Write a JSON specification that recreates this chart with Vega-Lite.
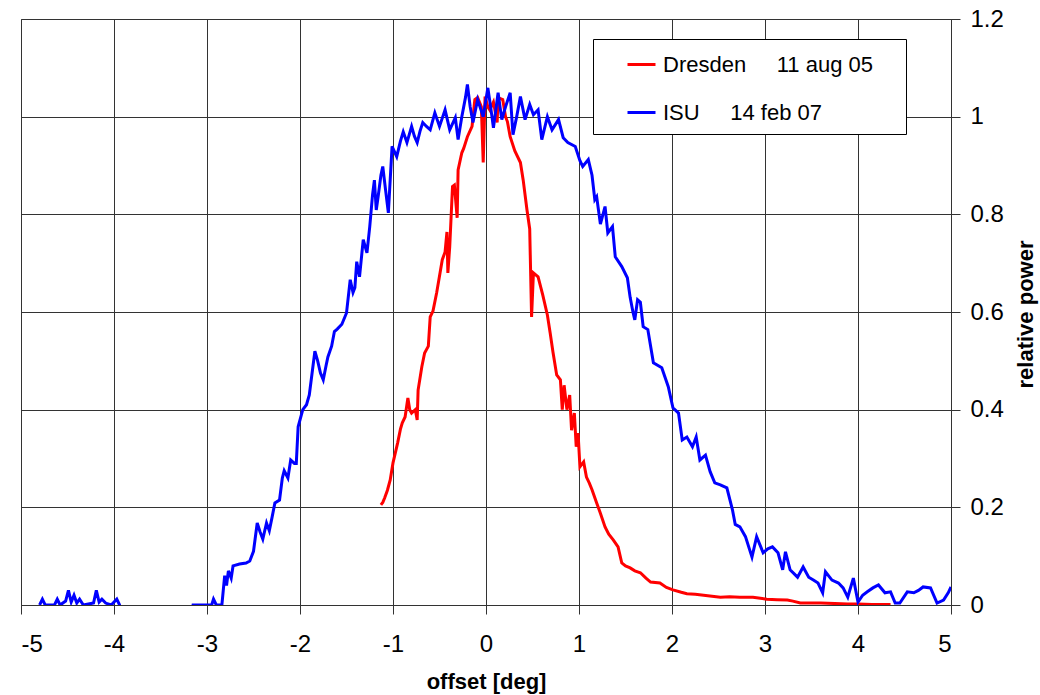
{
  "$schema": "https://vega.github.io/schema/vega-lite/v6.json",
  "width": 930,
  "height": 586,
  "autosize": {"type": "none"},
  "padding": {"left": 21, "top": 19, "right": 89, "bottom": 90},
  "background": "white",
  "config": {"font": "Liberation Sans", "view": {"stroke": "#555555"}},
  "datasets": {
    "ISU": [
      {"x":-4.80,"y":0},{"x":-4.77,"y":0.012},{"x":-4.74,"y":0},{"x":-4.64,"y":0},{"x":-4.61,"y":0.012},{"x":-4.58,"y":0},{"x":-4.52,"y":0.008},{"x":-4.49,"y":0.03},{"x":-4.46,"y":0.006},{"x":-4.43,"y":0.02},{"x":-4.40,"y":0.004},{"x":-4.37,"y":0.012},{"x":-4.33,"y":0},{"x":-4.22,"y":0.004},{"x":-4.19,"y":0.03},{"x":-4.16,"y":0.006},{"x":-4.13,"y":0.012},{"x":-4.09,"y":0.004},{"x":-4.03,"y":0},{"x":-3.97,"y":0.012},{"x":-3.94,"y":0},{"x":-3.90,"y":-0.05},{"x":-3.20,"y":-0.05},{"x":-3.15,"y":0},{"x":-2.95,"y":0},{"x":-2.93,"y":0.012},{"x":-2.90,"y":0},{"x":-2.84,"y":0},{"x":-2.81,"y":0.06},{"x":-2.79,"y":0.04},{"x":-2.77,"y":0.07},{"x":-2.74,"y":0.055},{"x":-2.72,"y":0.08},{"x":-2.65,"y":0.084},{"x":-2.58,"y":0.086},{"x":-2.54,"y":0.09},{"x":-2.50,"y":0.11},{"x":-2.46,"y":0.168},{"x":-2.43,"y":0.15},{"x":-2.40,"y":0.135},{"x":-2.36,"y":0.168},{"x":-2.33,"y":0.152},{"x":-2.30,"y":0.18},{"x":-2.27,"y":0.209},{"x":-2.22,"y":0.215},{"x":-2.19,"y":0.26},{"x":-2.17,"y":0.275},{"x":-2.13,"y":0.26},{"x":-2.10,"y":0.297},{"x":-2.06,"y":0.29},{"x":-2.04,"y":0.29},{"x":-2.02,"y":0.365},{"x":-1.97,"y":0.40},{"x":-1.93,"y":0.41},{"x":-1.90,"y":0.43},{"x":-1.86,"y":0.49},{"x":-1.84,"y":0.52},{"x":-1.81,"y":0.50},{"x":-1.78,"y":0.475},{"x":-1.75,"y":0.461},{"x":-1.72,"y":0.49},{"x":-1.70,"y":0.508},{"x":-1.66,"y":0.53},{"x":-1.63,"y":0.56},{"x":-1.60,"y":0.565},{"x":-1.55,"y":0.575},{"x":-1.50,"y":0.598},{"x":-1.46,"y":0.666},{"x":-1.43,"y":0.64},{"x":-1.41,"y":0.65},{"x":-1.39,"y":0.703},{"x":-1.36,"y":0.672},{"x":-1.32,"y":0.748},{"x":-1.28,"y":0.721},{"x":-1.25,"y":0.775},{"x":-1.22,"y":0.84},{"x":-1.20,"y":0.87},{"x":-1.18,"y":0.809},{"x":-1.16,"y":0.836},{"x":-1.13,"y":0.88},{"x":-1.11,"y":0.898},{"x":-1.08,"y":0.85},{"x":-1.05,"y":0.803},{"x":-1.01,"y":0.939},{"x":-0.96,"y":0.918},{"x":-0.92,"y":0.95},{"x":-0.89,"y":0.969},{"x":-0.85,"y":0.947},{"x":-0.80,"y":0.98},{"x":-0.77,"y":0.96},{"x":-0.74,"y":0.947},{"x":-0.71,"y":0.97},{"x":-0.68,"y":0.988},{"x":-0.64,"y":0.98},{"x":-0.60,"y":0.973},{"x":-0.55,"y":1.008},{"x":-0.50,"y":0.98},{"x":-0.44,"y":1.014},{"x":-0.39,"y":0.973},{"x":-0.33,"y":0.998},{"x":-0.30,"y":0.953},{"x":-0.26,"y":1.0},{"x":-0.22,"y":1.04},{"x":-0.20,"y":1.066},{"x":-0.17,"y":1.02},{"x":-0.14,"y":0.988},{"x":-0.09,"y":1.035},{"x":-0.03,"y":1.0},{"x":0.02,"y":1.059},{"x":0.05,"y":1.02},{"x":0.08,"y":0.977},{"x":0.13,"y":1.049},{"x":0.17,"y":0.994},{"x":0.21,"y":1.02},{"x":0.26,"y":1.049},{"x":0.29,"y":0.963},{"x":0.33,"y":1.0},{"x":0.37,"y":1.041},{"x":0.42,"y":0.994},{"x":0.47,"y":1.025},{"x":0.51,"y":1.004},{"x":0.56,"y":1.014},{"x":0.60,"y":0.953},{"x":0.66,"y":1.0},{"x":0.71,"y":0.973},{"x":0.78,"y":0.994},{"x":0.83,"y":0.957},{"x":0.88,"y":0.947},{"x":0.96,"y":0.939},{"x":1.01,"y":0.91},{"x":1.04,"y":0.898},{"x":1.10,"y":0.912},{"x":1.14,"y":0.88},{"x":1.17,"y":0.83},{"x":1.19,"y":0.836},{"x":1.23,"y":0.78},{"x":1.28,"y":0.816},{"x":1.31,"y":0.762},{"x":1.36,"y":0.775},{"x":1.39,"y":0.713},{"x":1.46,"y":0.693},{"x":1.52,"y":0.67},{"x":1.55,"y":0.63},{"x":1.58,"y":0.60},{"x":1.60,"y":0.584},{"x":1.63,"y":0.625},{"x":1.66,"y":0.62},{"x":1.69,"y":0.57},{"x":1.74,"y":0.564},{"x":1.80,"y":0.496},{"x":1.89,"y":0.486},{"x":1.96,"y":0.447},{"x":2.01,"y":0.404},{"x":2.07,"y":0.393},{"x":2.11,"y":0.338},{"x":2.16,"y":0.344},{"x":2.22,"y":0.324},{"x":2.26,"y":0.344},{"x":2.30,"y":0.297},{"x":2.36,"y":0.307},{"x":2.41,"y":0.273},{"x":2.46,"y":0.25},{"x":2.52,"y":0.246},{"x":2.59,"y":0.24},{"x":2.65,"y":0.195},{"x":2.68,"y":0.165},{"x":2.73,"y":0.16},{"x":2.79,"y":0.14},{"x":2.86,"y":0.098},{"x":2.91,"y":0.14},{"x":2.98,"y":0.107},{"x":3.03,"y":0.115},{"x":3.08,"y":0.119},{"x":3.14,"y":0.107},{"x":3.19,"y":0.072},{"x":3.22,"y":0.109},{"x":3.27,"y":0.072},{"x":3.35,"y":0.057},{"x":3.41,"y":0.078},{"x":3.47,"y":0.057},{"x":3.52,"y":0.051},{"x":3.57,"y":0.045},{"x":3.62,"y":0.025},{"x":3.65,"y":0.068},{"x":3.72,"y":0.051},{"x":3.79,"y":0.045},{"x":3.84,"y":0.035},{"x":3.89,"y":0.016},{"x":3.95,"y":0.055},{"x":4.00,"y":0.006},{"x":4.05,"y":0.02},{"x":4.10,"y":0.027},{"x":4.16,"y":0.035},{"x":4.22,"y":0.041},{"x":4.29,"y":0.025},{"x":4.35,"y":0.027},{"x":4.40,"y":0.004},{"x":4.45,"y":0.004},{"x":4.53,"y":0.027},{"x":4.60,"y":0.025},{"x":4.65,"y":0.03},{"x":4.70,"y":0.037},{"x":4.78,"y":0.035},{"x":4.85,"y":0.004},{"x":4.92,"y":0.01},{"x":4.97,"y":0.025},{"x":5.00,"y":0.037}
    ],
    "Dresden": [
      {"x":-1.13,"y":0.205},{"x":-1.11,"y":0.21},{"x":-1.09,"y":0.219},{"x":-1.06,"y":0.235},{"x":-1.03,"y":0.256},{"x":-1.00,"y":0.291},{"x":-0.95,"y":0.332},{"x":-0.92,"y":0.36},{"x":-0.90,"y":0.373},{"x":-0.87,"y":0.385},{"x":-0.84,"y":0.424},{"x":-0.82,"y":0.40},{"x":-0.80,"y":0.393},{"x":-0.76,"y":0.40},{"x":-0.74,"y":0.379},{"x":-0.73,"y":0.44},{"x":-0.69,"y":0.488},{"x":-0.66,"y":0.516},{"x":-0.62,"y":0.53},{"x":-0.60,"y":0.59},{"x":-0.57,"y":0.602},{"x":-0.53,"y":0.64},{"x":-0.47,"y":0.707},{"x":-0.44,"y":0.723},{"x":-0.42,"y":0.764},{"x":-0.41,"y":0.68},{"x":-0.39,"y":0.734},{"x":-0.36,"y":0.857},{"x":-0.34,"y":0.86},{"x":-0.31,"y":0.793},{"x":-0.30,"y":0.891},{"x":-0.26,"y":0.926},{"x":-0.24,"y":0.935},{"x":-0.20,"y":0.959},{"x":-0.15,"y":0.98},{"x":-0.12,"y":1.035},{"x":-0.09,"y":1.039},{"x":-0.05,"y":1.02},{"x":-0.03,"y":0.906},{"x":-0.01,"y":1.041},{"x":0.02,"y":1.02},{"x":0.04,"y":1.014},{"x":0.08,"y":1.03},{"x":0.12,"y":0.988},{"x":0.13,"y":1.039},{"x":0.18,"y":1.035},{"x":0.21,"y":1.0},{"x":0.23,"y":0.99},{"x":0.26,"y":0.959},{"x":0.31,"y":0.93},{"x":0.37,"y":0.906},{"x":0.40,"y":0.87},{"x":0.44,"y":0.81},{"x":0.47,"y":0.77},{"x":0.49,"y":0.59},{"x":0.51,"y":0.68},{"x":0.56,"y":0.672},{"x":0.61,"y":0.635},{"x":0.66,"y":0.594},{"x":0.69,"y":0.557},{"x":0.72,"y":0.518},{"x":0.76,"y":0.471},{"x":0.80,"y":0.461},{"x":0.82,"y":0.40},{"x":0.84,"y":0.45},{"x":0.87,"y":0.40},{"x":0.90,"y":0.43},{"x":0.92,"y":0.358},{"x":0.95,"y":0.393},{"x":0.97,"y":0.324},{"x":0.99,"y":0.352},{"x":1.01,"y":0.283},{"x":1.05,"y":0.293},{"x":1.08,"y":0.262},{"x":1.11,"y":0.25},{"x":1.14,"y":0.236},{"x":1.19,"y":0.209},{"x":1.23,"y":0.188},{"x":1.28,"y":0.16},{"x":1.32,"y":0.145},{"x":1.37,"y":0.133},{"x":1.42,"y":0.119},{"x":1.46,"y":0.086},{"x":1.50,"y":0.08},{"x":1.55,"y":0.076},{"x":1.60,"y":0.07},{"x":1.66,"y":0.066},{"x":1.72,"y":0.055},{"x":1.77,"y":0.047},{"x":1.87,"y":0.045},{"x":1.94,"y":0.036},{"x":2.01,"y":0.031},{"x":2.10,"y":0.026},{"x":2.16,"y":0.023},{"x":2.25,"y":0.022},{"x":2.34,"y":0.02},{"x":2.43,"y":0.018},{"x":2.52,"y":0.016},{"x":2.62,"y":0.017},{"x":2.73,"y":0.016},{"x":2.87,"y":0.016},{"x":2.95,"y":0.014},{"x":3.02,"y":0.012},{"x":3.13,"y":0.011},{"x":3.24,"y":0.01},{"x":3.30,"y":0.008},{"x":3.38,"y":0.004},{"x":3.50,"y":0.004},{"x":3.60,"y":0.004},{"x":3.75,"y":0.003},{"x":3.89,"y":0.002},{"x":4.00,"y":0.002},{"x":4.15,"y":0.001},{"x":4.35,"y":0.001}
    ]
  },
  "encoding": {
    "x": {
      "field": "x", "type": "quantitative",
      "scale": {"domain": [-5, 5], "nice": false, "zero": false},
      "axis": {
        "values": [-5,-4,-3,-2,-1,0,1,2,3,4,5],
        "labelExpr": "datum.value < 0 ? '-' + abs(datum.value) : '' + datum.value",
        "title": "offset [deg]", "titleFontSize": 22, "titleFontWeight": "bold", "titleColor": "black",
        "titleBaseline": "middle", "titleY": 76,
        "labelFontSize": 24, "labelColor": "black", "labelPadding": 18,
        "tickSize": 9, "tickColor": "#333333", "domainColor": "#333333",
        "grid": true, "gridColor": "#333333", "gridOpacity": 1
      }
    },
    "y": {
      "field": "y", "type": "quantitative",
      "scale": {"domain": [0, 1.2], "nice": false},
      "axis": {
        "orient": "right",
        "values": [0, 0.2, 0.4, 0.6, 0.8, 1, 1.2],
        "format": ".1~f",
        "title": "relative power", "titleFontSize": 22, "titleFontWeight": "bold", "titleColor": "black",
        "titleAngle": 270, "titleAlign": "center", "titleBaseline": "middle", "titleX": 74, "titleY": 295,
        "labelFontSize": 24, "labelColor": "black", "labelPadding": 10, "labelBaseline": "middle",
        "tickSize": 9, "tickColor": "#333333", "domainColor": "#333333",
        "grid": true, "gridColor": "#333333", "gridOpacity": 1
      }
    },
    "color": {
      "type": "nominal",
      "scale": {
        "domain": ["Dresden\u00a0\u00a0\u00a0\u00a0\u00a011 aug 05\u00a0\u2800", "ISU\u00a0\u00a0\u00a0\u00a0\u00a014 feb 07"],
        "range": ["#ff0000", "#0000ff"]
      },
      "legend": {
        "title": null, "orient": "none", "legendX": 572, "legendY": 20,
        "strokeColor": "black", "fillColor": "white", "padding": 10,
        "symbolType": "stroke", "symbolSize": 784, "symbolStrokeWidth": 3, "symbolOffset": 23,
        "labelFontSize": 22, "labelColor": "black", "labelOffset": 6, "rowPadding": 21, "labelLimit": 400
      }
    }
  },
  "layer": [
    {
      "data": {"name": "Dresden"},
      "mark": {"type": "line", "strokeWidth": 3, "clip": true},
      "encoding": {"color": {"datum": "Dresden\u00a0\u00a0\u00a0\u00a0\u00a011 aug 05\u00a0\u2800"}}
    },
    {
      "data": {"name": "ISU"},
      "mark": {"type": "line", "strokeWidth": 3, "clip": true},
      "encoding": {"color": {"datum": "ISU\u00a0\u00a0\u00a0\u00a0\u00a014 feb 07"}}
    }
  ]
}
